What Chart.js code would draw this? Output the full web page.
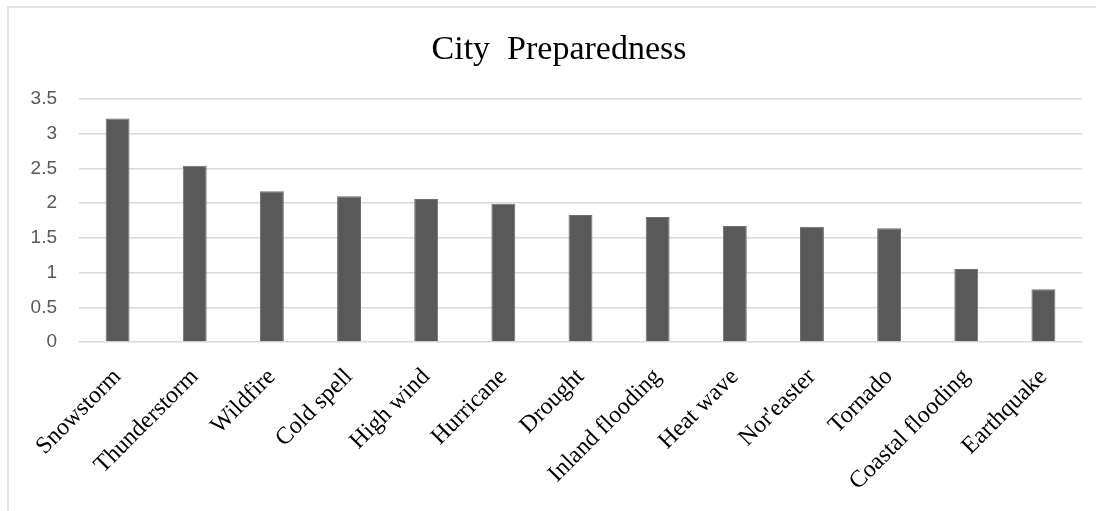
<!DOCTYPE html>
<html>
<head>
<meta charset="utf-8">
<script src="https://cdn.jsdelivr.net/npm/chart.js@4.4.1/dist/chart.umd.min.js"></script>
<style>
  html, body { margin: 0; padding: 0; background: #fff; }
  #wrap { position: relative; width: 1096px; height: 511px; overflow: hidden; }
  #frame {
    position: absolute; left: 7px; top: 6px; right: -4px; bottom: -4px;
    border-top: 2px solid #e2e2e2; border-left: 2px solid #e2e2e2;
    pointer-events: none;
  }
  canvas { position: absolute; left: 0; top: 0; }
</style>
</head>
<body>
<div id="wrap">
  <canvas id="chart" width="1096" height="511"></canvas>
  <div id="frame"></div>
</div>
<script>
const titleText = 'City  Preparedness';
const categories = [
  'Snowstorm', 'Thunderstorm', 'Wildfire', 'Cold spell', 'High wind', 'Hurricane',
  'Drought', 'Inland flooding', 'Heat wave', "Nor'easter", 'Tornado',
  'Coastal flooding', 'Earthquake'
];
const preparedness = [3.22, 2.54, 2.17, 2.10, 2.06, 1.99, 1.83, 1.80, 1.67, 1.66, 1.64, 1.05, 0.76];
const yTicks = [0, 0.5, 1, 1.5, 2, 2.5, 3, 3.5];

// title sits centred on the frame, not the canvas, so draw it by hand
const titlePlugin = {
  id: 'frameTitle',
  afterDraw(chart) {
    const c = chart.ctx;
    c.save();
    c.fillStyle = '#000';
    c.font = '34px "Liberation Serif"';
    c.textAlign = 'center';
    c.textBaseline = 'alphabetic';
    c.fillText(titleText, 559, 59);
    c.restore();
  }
};

const ctx = document.getElementById('chart');

new Chart(ctx, {
  type: 'bar',
  data: {
    labels: categories,
    datasets: [{
      data: preparedness,
      backgroundColor: '#595959',
      borderColor: '#6e6e6e',
      borderWidth: 1,
      categoryPercentage: 1,
      barPercentage: 0.31
    }]
  },
  plugins: [titlePlugin],
  options: {
    responsive: false,
    animation: false,
    devicePixelRatio: 1,
    layout: { padding: { left: 0, right: 14, top: 99, bottom: 0 } },
    plugins: {
      legend: { display: false },
      tooltip: { enabled: false },
      title: { display: false }
    },
    scales: {
      x: {
        grid: { display: false },
        border: { display: false },
        ticks: {
          color: '#000',
          font: { family: 'Liberation Serif', size: 24 },
          minRotation: 45,
          maxRotation: 45,
          padding: 13
        },
        afterFit(scale) {
          scale.height = 169;
          scale.paddingRight = 0;
          scale.paddingLeft = 0;
        }
      },
      y: {
        min: 0,
        max: 3.5,
        afterBuildTicks(scale) {
          scale.ticks = yTicks.map(v => ({ value: v }));
        },
        grid: { color: '#d9d9d9', lineWidth: 1.5, drawTicks: false },
        border: { display: false },
        ticks: {
          color: '#595959',
          font: { family: 'Liberation Sans', size: 19 },
          padding: 22,
          callback: v => String(v)
        },
        afterFit(scale) {
          scale.width = 79;
          scale.paddingTop = 0;
          scale.paddingBottom = 0;
        }
      }
    }
  }
});
</script>
</body>
</html>
